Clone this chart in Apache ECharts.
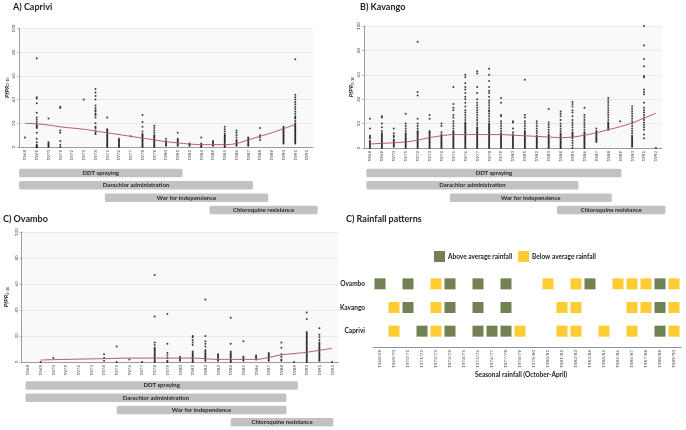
<!DOCTYPE html>
<html><head><meta charset="utf-8">
<script src="https://cdn.jsdelivr.net/npm/echarts@6/dist/echarts.min.js"></script>
<style>html,body{margin:0;padding:0;background:#fff}#c{width:686px;height:430px}</style>
</head><body><div id="c"></div><script>
const years = ['1968','1969','1970','1971','1972','1973','1974','1975','1976','1977','1978','1979','1980','1981','1982','1983','1984','1985','1986','1987','1988','1989','1990','1991','1992'];
const seasons = ['1968/69','1969/70','1970/71','1971/72','1972/73','1973/74','1974/75','1975/76','1976/77','1977/78','1978/79','1979/80','1980/81','1981/82','1982/83','1983/84','1984/85','1985/86','1986/87','1987/88','1988/89','1989/90'];
const regions = ['Caprivi','Kavango','Ovambo'];
const tlLabels = ['DDT spraying','Darachlor administration','War for independence','Chloroquine resistance'];

// PfPR2-10 observations per year (index aligned with years)
const capriviPfPR = [
 [8],[75,42,41,37,29,25,23,21,19,18,17,16,12,7,4,2,1,0,0],[24,4,3,2,1,0],[34,33,14,12,5,2,0],[],[40],
 [49,46,43,40,35,33,31,30,28,27,25,20,17,16,14,12,11],[25,15,14,13,12,11,10,9,8,7,6,5,4,3,2,1,0],
 [7,6,5,4,3,2,1,0],[9],[27,21,17,13,11,10,9,8,7,6,5,4,3,2,1,0],[18,16,14,12,10,9,8,7,6,5,4,3,2,1,0],
 [7,5,4,3,2,1],[12,7,6,5,4,3,2,1],[3,2,1],[8,3,2,1,0],[5,4,3,2,1],[17,15,13,11,10,9,8,7,6,5,4,3,2,1,0],
 [14,12,10,8,6,5,4,3,2,1],[8,7,6,5,4,3,2,1],[16,10,8,6],[],[17,16,15,14,13,12,11,10,9,8,7,6,5,4,3],
 [74,44,42,40,38,36,34,32,30,28,26,25,24,22,20,19,18,17,16,15,14,13,12,11,10,9,8,7,6,5,4,3],[]
];
const kavangoPfPR = [
 [24,16,10,9,8,6,5,4,3,2,1,0],[26,25,20,17,14,12,11,10,9,8,7,6,5,4,3,2,1,0],[16,12,10,9,7,6,5,4,3,2,1],
 [28,20,18,16,14,12,11,10,9,8,7,6,5,4,3,2,1,0],[87,46,43,24,20,18,16,14,13,12,11,10,9,8,7,6,5,4,3,2,1,0],
 [27,24,14,13,12,11,10,9,8,7,6,5,4,3,2,1,0],[20,18,13,11,10,9,8,7,6,5,4,3,2,1,0],
 [50,36,33,31,27,25,22,20,18,16,14,13,12,11,10,9,8,7,6,5,4,3,2,1,0],
 [60,58,53,50,48,45,42,40,37,34,31,29,27,25,23,21,20,19,18,17,16,15,14,13,12,11,10,9,8,7,6,5,4,3,2,1,0],
 [63,61,50,45,40,37,35,33,31,29,27,25,23,21,19,17,16,15,14,13,12,11,10,9,8,7,6,5,4,3,2,1,0],
 [65,60,55,50,47,45,42,39,37,35,33,31,30,28,26,24,22,20,19,18,17,16,15,14,13,12,11,10,9,8,7,6,5,4,3,2,1,0],
 [41,37,27,26,22,20,18,16,14,12,11,10,9,8,7,6,5,4,3,2,1,0],[22,21,16,13,11,10,9,8,7,6,5,4,3,2,1,0],
 [56,27,25,22,20,18,16,14,13,12,11,10,9,8,7,6,5,4,3,2,1,0],[22,20,18,16,14,12,10,9,8,7,6,5,4,3,2,1,0],
 [32,21,19,17,15,13,11,10,9,8,7,6,5,4,3,2,1,0],[30,28,26,23,20,18,16,14,12,11,10,9,8,7,6,5,4,3,2,1,0],
 [38,36,34,31,29,26,23,21,19,17,15,13,12,11,10,9,8,6,4,2,0],[33,27,25,23,21,19,17,15,13,12,11,10,9,8,7,6,5,4,3,2,1,0],
 [16,14,13,12,11,10,9,8,7,6,5],[41,39,37,35,33,31,29,27,25,23,21,20,19,18,17,16,15],[22],
 [34,32,30,28,26,24,22,20,18,16,14,12,10,9,8,7,6,5,4,3,2,1],
 [100,84,73,67,59,58,48,46,44,37,33,31,29,27,25,23,21,19,17,15,11,8],[0]
];
const ovamboPfPR = [
 [],[0],[3],[],[],[],[6,3,1],[12,0],[2],[0],[67,35,15,13,11,10,9,8,7,6,5,4,3,2,1,0],[37,14,7,5,3,1,0],
 [4,3,2,1],[20,19,17,15,13,8,7,6,5,4,3,2,1,0],[48,20,16,14,12,9,8,7,6,5,4,3,2,1],[6,5,4,3,2,1],
 [34,14,8,7,6,5,4,3,2,1,0],[16,4,3,2,1],[5,4,3,2],[7,6,5,4,3,2,1],[15,11,6,4,2,1],[0],
 [38,33,23,22,21,20,19,18,17,16,15,14,13,12,11,10,9,8,7,6,5,4,3,2,1,0],
 [26,21,19,17,15,14,13,12,11,10,9,8,7,6,5,4,3,2,1],[0]
];
// smoothed trend lines
const capriviFit = [20,19.5,18.5,17,16,15,13.5,12,10.5,9,7.5,6,4.5,3.5,2.5,2,2,2,3,6,9,12,15.5,19,null];
const kavangoFit = [3.3,3.8,4.3,5,6.5,8.5,10,11,11,11,11,11,10.5,10,9.5,9,8.5,9,10.5,12.5,15,17.5,20.5,24.5,28.5];
const ovamboFit = [null,1.5,1.8,2,2.2,2.4,2.6,2.8,3,3,3,3,3,3,2.5,2,2,2,2,3.5,5.5,6.5,7.5,9,10.5];
// intervention time spans (years)
const capriviSpans = [[1967.5,1981.4],[1967.5,1987.4],[1974.8,1988.7],[1983.7,1992.9]];
const kavangoSpans = [[1967.7,1989.1],[1967.7,1985.5],[1974.7,1988.3],[1983.7,1992.8]];
const ovamboSpans = [[1967.8,1989.3],[1967.8,1988.4],[1975.0,1988.4],[1984.0,1992.1]];
// rainfall: A = above average, B = below average, '' = none
const rainOvambo = ['A','','A','','B','A','','A','','A','','','B','','B','A','','B','B','B','A','B'];
const rainKavango = ['','B','A','','B','A','','A','','A','','','','B','B','','','','B','B','A','B'];
const rainCaprivi = ['','B','','A','B','A','','A','A','A','B','','','B','B','','B','','B','','A','B'];

const FONT = 'Lato';
const option = {animation:false, grid:[], xAxis:[], yAxis:[], series:[], graphic:[], textStyle:{fontFamily:FONT}};

function addPanel(p){
  const gi = option.grid.length;
  option.grid.push({left:p.left, top:p.top, width:p.width, height:p.height, show:true, backgroundColor:'#f9f9f9', borderWidth:0});
  option.xAxis.push({type:'category', gridIndex:gi, data:years, boundaryGap:true,
    axisLine:{lineStyle:{color:'#888', width:0.8}},
    axisTick:{alignWithLabel:true, length:2, lineStyle:{color:'#888', width:0.6}},
    axisLabel:{rotate:90, fontSize:4.5, color:'#444', margin:3, interval:0, fontFamily:FONT},
    splitLine:{show:false}});
  option.yAxis.push({type:'value', gridIndex:gi, min:0, max:100, interval:20,
    name:'{i|PfPR}{s|2-10}', nameLocation:'middle', nameGap:p.nameGap, nameRotate:90,
    nameTextStyle:{rich:{i:{fontSize:6, fontStyle:'italic', fontWeight:'bold', color:'#222', fontFamily:FONT},
                         s:{fontSize:3.8, color:'#222', padding:[3,0,0,0], fontFamily:FONT}}},
    axisLine:{show:true, lineStyle:{color:'#888', width:0.8}},
    axisTick:{show:true, length:2, lineStyle:{color:'#888', width:0.6}},
    axisLabel:{rotate:90, fontSize:4.5, margin:3, color:'#444', fontFamily:FONT},
    splitLine:{lineStyle:{color:'#e4e4e4', width:0.8}}});
  const pts = [];
  p.values.forEach((arr,i)=>arr.forEach(v=>pts.push([i,v])));
  option.series.push({type:'scatter', xAxisIndex:gi, yAxisIndex:gi, data:pts, symbolSize:2, itemStyle:{color:'#111'}, silent:true});
  option.series.push({type:'line', xAxisIndex:gi, yAxisIndex:gi, data:p.fit, smooth:0.4, symbol:'none', showSymbol:false,
    lineStyle:{color:'#b85a68', width:1}, silent:true});
  const ti = gi+1;
  option.grid.push({left:p.left, top:p.tlTop, width:p.width, height:49.2, show:false});
  option.xAxis.push({type:'value', gridIndex:ti, min:1967.5, max:1992.5, show:false, splitLine:{show:false}});
  option.yAxis.push({type:'category', gridIndex:ti, data:tlLabels, inverse:true, show:false});
  option.series.push({type:'custom', xAxisIndex:ti, yAxisIndex:ti, clip:false, silent:true,
    data:p.spans.map((s,k)=>[k,s[0],s[1]]), encode:{x:[1,2], y:0},
    renderItem:function(params, api){
      const row = api.value(0);
      const a = api.coord([api.value(1), row]);
      const b = api.coord([api.value(2), row]);
      const h = api.size([0,1])[1]*0.69;
      return {type:'group', children:[
        {type:'rect', shape:{x:a[0], y:a[1]-h/2, width:b[0]-a[0], height:h, r:1.5}, style:{fill:'#c2c2c2'}},
        {type:'text', style:{text:tlLabels[params.dataIndex], x:(a[0]+b[0])/2, y:a[1], align:'center', verticalAlign:'middle',
          font:'bold 6px '+FONT, fill:'#2a2a2a'}}
      ]};
    }});
}

addPanel({left:19.1, top:28.5, width:293.8, height:118.5, nameGap:9, tlTop:166.9, values:capriviPfPR, fit:capriviFit, spans:capriviSpans});
addPanel({left:364, top:26, width:297.9, height:122, nameGap:9, tlTop:166.9, values:kavangoPfPR, fit:kavangoFit, spans:kavangoSpans});
addPanel({left:21.7, top:232, width:316.7, height:130, nameGap:12, tlTop:379.3, values:ovamboPfPR, fit:ovamboFit, spans:ovamboSpans});

// rainfall panel
const rg = option.grid.length;
option.grid.push({left:373, top:272, width:308, height:71, show:false});
option.xAxis.push({type:'category', gridIndex:rg, data:seasons, boundaryGap:true, offset:4,
  axisLine:{lineStyle:{color:'#777', width:0.8}}, axisTick:{length:2, lineStyle:{color:'#777', width:0.6}},
  axisLabel:{rotate:90, fontSize:4.5, color:'#444', margin:3, interval:0, fontFamily:FONT}, splitLine:{show:false}});
option.yAxis.push({type:'category', gridIndex:rg, data:regions, boundaryGap:true,
  axisLine:{show:false}, axisTick:{show:false}, splitLine:{show:false},
  axisLabel:{fontSize:6.5, fontWeight:'bold', color:'#222', margin:8, fontFamily:FONT}});
const above = [], below = [];
[rainCaprivi, rainKavango, rainOvambo].forEach((arr,r)=>arr.forEach((c,i)=>{
  if(c==='A') above.push([i,r]); else if(c==='B') below.push([i,r]);
}));
option.series.push({name:'Above average rainfall', type:'scatter', xAxisIndex:rg, yAxisIndex:rg, symbol:'rect', symbolSize:11, data:above, itemStyle:{color:'#4f6228'}});
option.series.push({name:'Below average rainfall', type:'scatter', xAxisIndex:rg, yAxisIndex:rg, symbol:'rect', symbolSize:11, data:below, itemStyle:{color:'#ffc000'}});
option.legend = {data:['Above average rainfall','Below average rainfall'], left:429, top:246, icon:'rect', itemWidth:11, itemHeight:11, itemGap:6,
  textStyle:{fontSize:6.5, fontWeight:'bold', color:'#222', fontFamily:FONT, padding:[0,0,0,-2]}};

option.graphic = [
  {type:'text', left:13, top:3, style:{text:'A) Caprivi', font:'bold 9px '+FONT, fill:'#222'}},
  {type:'text', left:360, top:3, style:{text:'B) Kavango', font:'bold 9px '+FONT, fill:'#222'}},
  {type:'text', left:3, top:215, style:{text:'C) Ovambo', font:'bold 9px '+FONT, fill:'#222'}},
  {type:'text', left:346, top:215, style:{text:'C) Rainfall patterns', font:'bold 9px '+FONT, fill:'#222'}},
  {type:'text', x:521, y:375, style:{text:'Seasonal rainfall (October-April)', font:'bold 6.5px '+FONT, fill:'#222', align:'center', verticalAlign:'middle'}}
];

const chart = echarts.init(document.getElementById('c'), null, {renderer:'canvas'});
chart.setOption(option);
</script></body></html>
